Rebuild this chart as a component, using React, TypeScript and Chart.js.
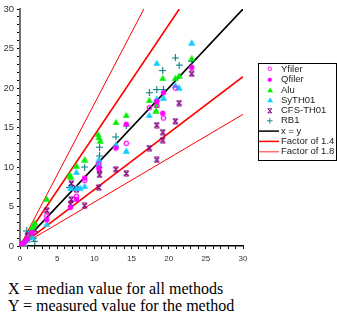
import React, { useEffect, useRef } from 'react';
import { Chart, registerables } from 'chart.js';
Chart.register(...registerables);

const yfilerX = [0.3, 0.7, 1.0, 1.5, 3.6, 7.6, 8.7, 10.6, 14.3, 17.4, 18.4, 19.3, 20.9];
const yfilerY = [0.3, 0.6, 1.1, 1.6, 3.8, 6.3, 8.3, 10.4, 13.0, 17.5, 17.8, 16.2, 20.0];

const qfilerX = [0.2, 0.5, 1.0, 1.6, 3.6, 6.8, 7.6, 8.7, 10.6, 12.9, 14.3, 18.4, 19.3, 19.2, 23.1];
const qfilerY = [0.2, 0.4, 0.9, 1.7, 3.3, 4.9, 5.9, 8.6, 9.8, 12.4, 15.4, 18.3, 19.4, 16.8, 22.6];

const aluX = [0.4, 1.2, 1.6, 1.8, 2.0, 3.6, 6.7, 6.8, 7.6, 8.7, 10.5, 10.6, 10.8, 12.9, 14.3, 17.4, 18.4, 18.3, 19.2, 20.9, 21.4, 23.1];
const aluY = [0.5, 1.4, 2.3, 2.6, 3.0, 6.0, 9.1, 8.8, 10.2, 11.0, 14.2, 13.8, 13.4, 15.7, 16.6, 18.5, 17.9, 17.2, 21.3, 21.3, 21.6, 23.8];

const sythX = [0.2, 0.6, 1.0, 1.6, 3.6, 6.8, 7.6, 7.6, 8.1, 8.7, 10.6, 10.6, 12.9, 14.3, 17.4, 18.4, 18.4, 19.3, 20.9, 21.4, 23.1];
const sythY = [0.1, 0.3, 0.8, 1.2, 2.8, 7.4, 7.4, 9.4, 7.4, 7.6, 11.0, 10.5, 12.9, 12.1, 16.6, 18.7, 23.2, 18.8, 20.4, 20.1, 25.8];

const cfsX = [0.3, 1.0, 1.6, 2.0, 3.6, 6.9, 7.6, 6.9, 6.8, 8.7, 10.7, 10.7, 10.6, 12.9, 14.3, 17.4, 18.4, 18.4, 19.2, 19.2, 20.9, 21.4, 23.1];
const cfsY = [0.2, 1.3, 1.8, 2.1, 4.5, 7.9, 7.2, 5.9, 5.3, 5.1, 9.7, 9.0, 7.4, 9.7, 9.2, 12.4, 10.9, 15.3, 14.4, 13.4, 15.8, 18.1, 21.8];

const rb1X = [0.1, 1.1, 0.9, 1.8, 2.0, 6.7, 6.9, 8.7, 10.7, 10.7, 12.9, 14.3, 17.4, 18.4, 19.3, 19.2, 20.9, 21.4, 23.1];
const rb1Y = [0.1, 1.2, 1.9, 1.0, 0.6, 7.4, 7.6, 10.0, 11.4, 12.5, 13.8, 15.2, 19.4, 19.8, 19.8, 22.2, 23.8, 22.9, 23.4];

const axisMin = 0;
const axisMax = 30;
const tickLabels = [0, 5, 10, 15, 20, 25, 30];
const factors = [1.4, 1.8];

const legendLabels = ['Yfiler', 'Qfiler', 'Alu', 'SyTH01', 'CFS-TH01', 'RB1', 'x = y', 'Factor of 1.4', 'Factor of 1.8'];

function pts(xs: number[], ys: number[]) {
  return xs.map((x, i) => ({ x, y: ys[i] }));
}

function makeMarker(kind: string, color: string, s: number): HTMLCanvasElement {
  const c = document.createElement('canvas');
  const w = Math.ceil((kind === 'tri' ? 8 : 7) * s);
  const h = Math.ceil(7 * s);
  c.width = w;
  c.height = h;
  const g = c.getContext('2d')!;
  g.scale(s, s);
  g.strokeStyle = color;
  g.fillStyle = color;
  if (kind === 'open') {
    g.lineWidth = 1.2;
    g.beginPath();
    g.arc(3.5, 3.5, 2.2, 0, Math.PI * 2);
    g.stroke();
  } else if (kind === 'dot') {
    g.beginPath();
    g.arc(3.5, 3.5, 2.7, 0, Math.PI * 2);
    g.fill();
  } else if (kind === 'tri') {
    g.beginPath();
    g.moveTo(4, 0.5);
    g.lineTo(7.6, 6.7);
    g.lineTo(0.4, 6.7);
    g.closePath();
    g.fill();
  } else if (kind === 'xbar') {
    g.lineWidth = 1.2;
    g.beginPath();
    g.moveTo(1, 1); g.lineTo(6, 6);
    g.moveTo(6, 1); g.lineTo(1, 6);
    g.moveTo(1, 1); g.lineTo(6, 1);
    g.moveTo(1, 6); g.lineTo(6, 6);
    g.stroke();
  } else if (kind === 'plus') {
    g.lineWidth = 1.1;
    g.beginPath();
    g.moveTo(3.5, 0); g.lineTo(3.5, 7);
    g.moveTo(0, 3.5); g.lineTo(7, 3.5);
    g.stroke();
  }
  return c;
}

const kinds = ['open', 'dot', 'tri', 'tri', 'xbar', 'plus'];
const colors = ['#ff00ff', '#ff00ff', '#00ee00', '#11ccff', '#800080', '#007f7f'];

export default function App() {
  const ref = useRef<HTMLCanvasElement | null>(null);

  useEffect(() => {
    if (!ref.current) return;
    const markers = kinds.map((k, i) => makeMarker(k, colors[i], 1));
    const legendMarkers = kinds.map((k, i) => makeMarker(k, colors[i], 0.8));
    const series = [
      pts(yfilerX, yfilerY),
      pts(qfilerX, qfilerY),
      pts(aluX, aluY),
      pts(sythX, sythY),
      pts(cfsX, cfsY),
      pts(rb1X, rb1Y),
    ];
    const pointSets: any[] = series.map((d, i) => ({
      label: legendLabels[i],
      data: d,
      pointStyle: markers[i],
      pointRadius: 3,
      order: 0,
      showLine: false,
    }));
    const lineSets: any[] = [
      {
        label: 'x = y',
        data: [{ x: axisMin, y: axisMin }, { x: axisMax, y: axisMax }],
        borderColor: '#000000',
        borderWidth: 1.6,
      },
    ];
    factors.forEach((f, k) => {
      const col = '#ff0000';
      const bw = k === 0 ? 1.6 : 1;
      lineSets.push({
        label: legendLabels[7 + k],
        data: [{ x: 0, y: 0 }, { x: axisMax / f, y: axisMax }],
        borderColor: col,
        borderWidth: bw,
      });
      lineSets.push({
        label: legendLabels[7 + k] + ' b',
        data: [{ x: 0, y: 0 }, { x: axisMax, y: axisMax / f }],
        borderColor: col,
        borderWidth: bw,
      });
    });
    lineSets.forEach((s) => {
      s.showLine = true;
      s.pointRadius = 0;
      s.order = 10;
    });

    const legendPlugin = {
      id: 'boxLegend',
      afterDraw(chart: any) {
        const ctx = chart.ctx;
        ctx.save();
        const left = 258.5, top = 63.5, right = 336.5, bottom = 160.5;
        ctx.strokeStyle = '#000';
        ctx.lineWidth = 1;
        ctx.strokeRect(left, top, right - left, bottom - top);
        ctx.font = '9.5px "Liberation Sans", Arial, sans-serif';
        ctx.textBaseline = 'middle';
        legendLabels.forEach((lab, i) => {
          const y = 69.3 + i * 10.3;
          if (i < 6) {
            const m = legendMarkers[i];
            ctx.drawImage(m, Math.round(270 - m.width / 2), Math.round(y - m.height / 2));
          } else {
            ctx.beginPath();
            ctx.strokeStyle = i === 6 ? '#000' : i === 7 ? '#ff0000' : '#ff7070';
            ctx.lineWidth = 1.5;
            ctx.moveTo(259, y);
            ctx.lineTo(279, y);
            ctx.stroke();
          }
          ctx.fillStyle = '#222';
          ctx.fillText(lab, 281, y);
        });
        ctx.restore();
      },
    };

    const chart = new Chart(ref.current, {
      type: 'scatter',
      data: { datasets: [...lineSets, ...pointSets] },
      options: {
        animation: false,
        responsive: false,
        layout: { padding: { top: 9, right: 94, left: 0, bottom: 0 } },
        plugins: { legend: { display: false }, tooltip: { enabled: false } },
        scales: {
          x: {
            type: 'linear',
            min: axisMin,
            max: axisMax,
            afterFit: (s: any) => { s.height = 24; },
            border: { display: true, color: '#000', width: 1.5 },
            grid: { drawOnChartArea: false, drawTicks: true, tickLength: 3, color: '#000' },
            ticks: {
              stepSize: 1,
              autoSkip: false,
              maxRotation: 0,
              padding: 5,
              color: '#333',
              font: { family: '"Liberation Sans", Arial, sans-serif', size: 8 },
              callback: (v: any) => (tickLabels.includes(v) ? String(v) : ''),
            },
          },
          y: {
            type: 'linear',
            min: axisMin,
            max: axisMax,
            afterFit: (s: any) => { s.width = 20; },
            border: { display: true, color: '#707070', width: 2 },
            grid: { drawOnChartArea: false, drawTicks: true, tickLength: 3, color: '#000' },
            ticks: {
              stepSize: 1,
              autoSkip: false,
              padding: 3,
              color: '#333',
              font: { family: '"Liberation Sans", Arial, sans-serif', size: 9.5 },
              callback: (v: any) => (tickLabels.includes(v) ? String(v) : ''),
            },
          },
        },
      },
      plugins: [legendPlugin],
    });
    return () => chart.destroy();
  }, []);

  return (
    <div style={{ position: 'absolute', left: 0, top: 0, width: 337, height: 320, background: '#fff' }}>
      <canvas ref={ref} width={337} height={270} style={{ width: 337, height: 270, display: 'block' }} />
      <div
        style={{
          position: 'absolute',
          left: 8,
          top: 280,
          fontFamily: '"Liberation Serif", "Times New Roman", serif',
          fontSize: 16,
          lineHeight: '17px',
          color: '#000',
          whiteSpace: 'nowrap',
        }}
      >
        <div>X = median value for all methods</div>
        <div>Y = measured value for the method</div>
      </div>
    </div>
  );
}
